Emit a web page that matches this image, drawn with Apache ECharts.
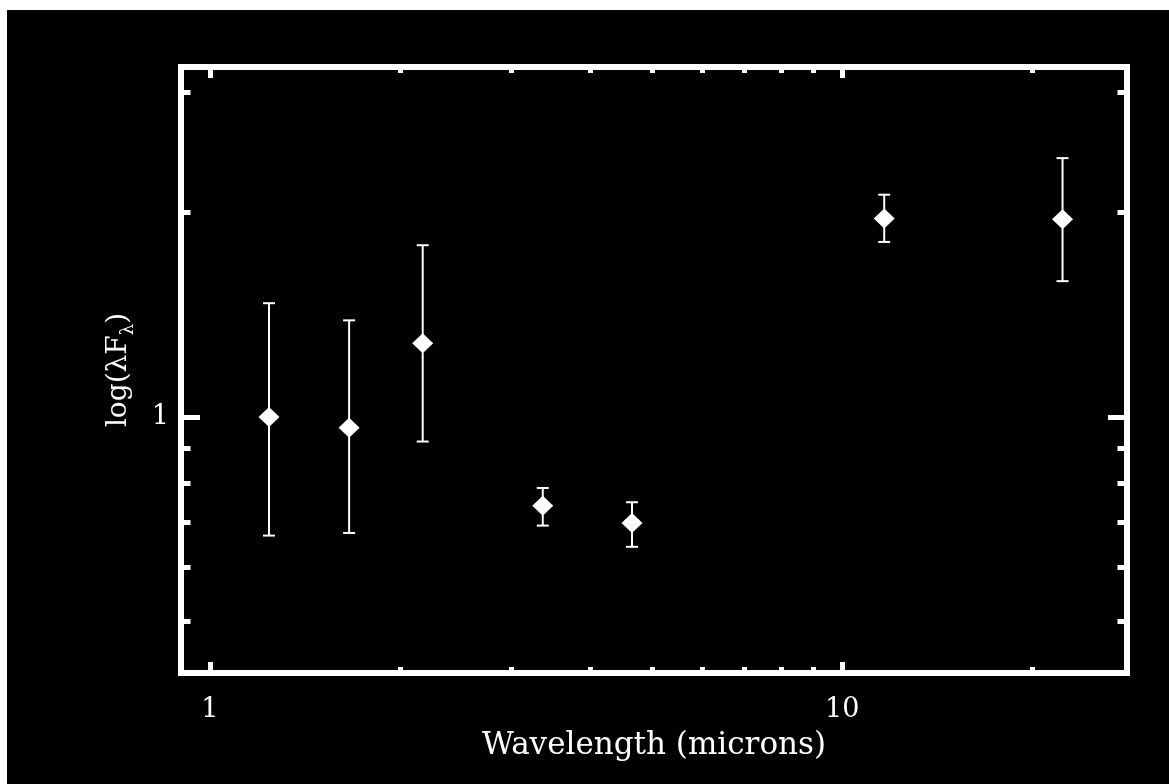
<!DOCTYPE html>
<html>
<head>
<meta charset="utf-8">
<script src="https://cdn.jsdelivr.net/npm/echarts@6/dist/echarts.min.js"></script>
<style>
  html, body { margin: 0; padding: 0; background: #ffffff; width: 1169px; height: 784px; overflow: hidden; }
  #chart { position: absolute; left: 7px; top: 10px; width: 1162px; height: 774px; background: #000000; }
</style>
</head>
<body>
<div id="chart"></div>
<script>
// ---- data ----
const wavelength = [1.24, 1.66, 2.17, 3.36, 4.65, 11.65, 22.3];
const flux       = [1.00, 0.964, 1.283, 0.740, 0.698, 1.958, 1.953];
const fluxLow    = [0.669, 0.675, 0.920, 0.692, 0.644, 1.809, 1.584];
const fluxHigh   = [1.47, 1.387, 1.789, 0.786, 0.749, 2.123, 2.403];

// ---- axis ticks ----
const xMajorTicks = [1, 10];
const xMinorTicks = [2, 3, 4, 5, 6, 7, 8, 9, 20];
const yMajorTicks = [1];
const yMinorTicks = [0.5, 0.6, 0.7, 0.8, 0.9, 2, 3];
const xRange = [0.9, 28.2];
const yRange = [0.42, 3.272];

const FONT = 'DejaVu Serif';
const WHITE = '#ffffff';

const chart = echarts.init(document.getElementById('chart'), null, { renderer: 'canvas' });

function xAxisDef(position, ticks, len, labels, name) {
  return {
    type: 'log', logBase: 10, position: position,
    min: xRange[0], max: xRange[1],
    axisLine: { show: false },
    splitLine: { show: false },
    axisTick: { show: true, inside: true, length: len, customValues: ticks,
                lineStyle: { color: WHITE, width: 5 } },
    axisLabel: labels ? { show: true, customValues: ticks, color: WHITE, fontFamily: FONT,
                          fontSize: 27, margin: 23, formatter: v => String(Math.round(v)) }
                      : { show: false },
    name: name || '',
    nameLocation: 'middle', nameGap: 57,
    nameTextStyle: { color: WHITE, fontFamily: FONT, fontSize: 31 }
  };
}
function yAxisDef(position, ticks, len, labels, name) {
  return {
    type: 'log', logBase: 10, position: position,
    min: yRange[0], max: yRange[1],
    axisLine: { show: false },
    splitLine: { show: false },
    axisTick: { show: true, inside: true, length: len, customValues: ticks,
                lineStyle: { color: WHITE, width: 5 } },
    axisLabel: labels ? { show: true, customValues: ticks, color: WHITE, fontFamily: FONT,
                          fontSize: 27, margin: 12, formatter: v => String(Math.round(v)) }
                      : { show: false },
    name: name || '',
    nameLocation: 'middle', nameGap: 44,
    nameTextStyle: { color: WHITE, fontFamily: FONT, fontSize: 28, lineHeight: 36,
                     rich: { sub: { color: WHITE, fontFamily: FONT, fontSize: 18, verticalAlign: 'bottom', lineHeight: 36 } } }
  };
}

const errorData = wavelength.map((w, i) => [w, fluxLow[i], fluxHigh[i]]);
const pointData = wavelength.map((w, i) => [w, flux[i]]);

chart.setOption({
  backgroundColor: '#000000',
  animation: false,
  grid: { left: 174, top: 57, right: 42, bottom: 111, show: true,
          borderColor: WHITE, borderWidth: 6, backgroundColor: 'transparent' },
  xAxis: [
    xAxisDef('bottom', xMajorTicks, 11, true, 'Wavelength (microns)'),
    xAxisDef('bottom', xMinorTicks, 6, false),
    xAxisDef('top', xMajorTicks, 11, false),
    xAxisDef('top', xMinorTicks, 6, false)
  ],
  yAxis: [
    yAxisDef('left', yMajorTicks, 19, true, 'log(λF{sub|λ})'),
    yAxisDef('left', yMinorTicks, 9.5, false),
    yAxisDef('right', yMajorTicks, 19, false),
    yAxisDef('right', yMinorTicks, 9.5, false)
  ],
  series: [
    {
      type: 'custom',
      xAxisIndex: 0, yAxisIndex: 0,
      data: errorData,
      encode: { x: 0, y: [1, 2] },
      z: 2,
      renderItem: function (params, api) {
        const x = api.value(0);
        const top = api.coord([x, api.value(2)]);
        const bot = api.coord([x, api.value(1)]);
        const hw = 6;
        const style = { stroke: WHITE, lineWidth: 2 };
        return {
          type: 'group',
          children: [
            { type: 'line', shape: { x1: top[0], y1: top[1], x2: bot[0], y2: bot[1] }, style: style },
            { type: 'line', shape: { x1: top[0] - hw, y1: top[1], x2: top[0] + hw, y2: top[1] }, style: style },
            { type: 'line', shape: { x1: bot[0] - hw, y1: bot[1], x2: bot[0] + hw, y2: bot[1] }, style: style }
          ]
        };
      }
    },
    {
      type: 'scatter',
      xAxisIndex: 0, yAxisIndex: 0,
      data: pointData,
      symbol: 'diamond',
      symbolSize: [21, 20],
      itemStyle: { color: WHITE, opacity: 1 },
      z: 3
    }
  ]
});
</script>
</body>
</html>
